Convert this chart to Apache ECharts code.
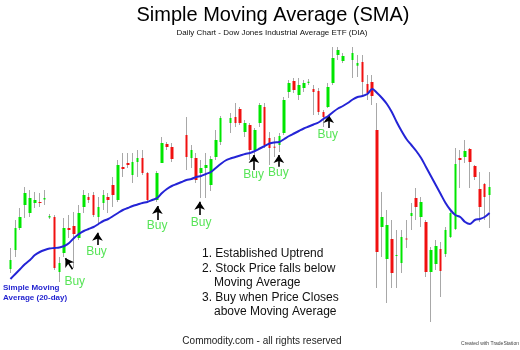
<!DOCTYPE html>
<html><head><meta charset="utf-8">
<script src="https://cdn.jsdelivr.net/npm/echarts/dist/echarts.min.js"></script>
<style>html,body{margin:0;padding:0;background:#fff}#c{width:520px;height:350px}</style>
</head><body><div id="c"></div>
<script>
// Daily candles (price units), null = no candle drawn in the slot
const openP = [103.1,105.0,107.2,109.5,108.7,109.7,109.8,110.05,108.25,108.3,
102.8,104.7,107.2,107.4,106.2,109.3,110.3,110.5,108.3,109.7,
110.3,111.5,110.0,113.3,113.7,112.5,113.8,114.2,112.7,null,
110.0,113.7,115.6,115.3,null,null,116.5,114.2,114.2,112.7,
113.2,111.5,114.3,115.8,null,117.7,118.3,119.1,116.8,117.5,
115.0,117.7,119.3,116.2,115.33,115.5,116.7,120.8,121.9,120.5,
121.2,121.7,121.1,120.9,118.8,119.3,121.7,124.5,123.9,null,
124.0,123.43,123.8,121.6,121.8,117.0,107.3,104.1,106.1,104.4,
103.7,106.15,108.4,110.2,108.3,107.8,102.8,103.6,105.1,104.6,
106.3,107.1,114.2,114.3,115.1,113.4,111.1,111.6,110.5];
const closeP = [104.0,107.2,108.3,110.7,110.2,110.0,109.7,110.2,108.4,103.2,
103.7,107.2,107.0,106.6,108.7,110.5,110.0,108.5,109.3,110.5,
110.0,110.5,113.5,113.1,113.5,113.8,114.2,112.7,110.0,null,
112.7,115.7,115.3,114.1,null,null,114.3,115.0,112.0,113.2,
113.5,114.1,116.0,118.2,null,118.2,117.7,117.7,117.7,115.0,
117.0,119.5,115.5,115.2,115.23,116.4,120.0,121.7,121.0,121.5,
121.7,121.83,120.8,118.8,118.3,121.3,124.2,125.0,124.4,null,
124.7,123.7,121.8,120.7,120.4,104.8,108.3,107.5,102.7,104.5,
106.3,106.05,108.7,109.3,109.8,102.8,105.0,105.4,102.9,107.0,
108.7,113.6,114.0,114.9,113.8,112.3,109.3,110.3,111.3];
const lowP = [102.7,104.3,107.0,108.2,108.3,109.2,109.3,109.5,108.1,103.0,
101.8,104.3,106.2,103.2,106.0,108.7,109.7,108.3,107.5,109.0,
108.7,109.3,109.8,112.3,113.2,111.7,112.3,112.5,109.8,null,
109.8,113.7,115.0,113.8,null,null,113.0,113.2,111.7,110.2,
110.2,110.9,114.0,115.5,null,116.7,117.3,117.5,116.3,114.0,
114.2,117.3,115.2,113.5,114.3,114.8,116.5,120.2,120.7,120.0,
120.8,121.5,118.5,118.5,117.3,119.2,121.5,124.0,123.7,null,
122.2,122.3,120.5,120.0,119.5,101.2,104.3,99.7,101.2,101.2,
102.7,105.2,107.0,108.0,107.3,102.3,97.8,103.0,100.3,104.3,
106.2,107.0,111.2,113.7,111.2,112.0,107.8,108.0,107.2];
const highP = [105.2,108.0,109.2,111.3,111.0,110.8,110.7,111.0,108.6,108.5,
104.3,108.2,108.5,108.8,109.5,111.0,110.7,110.8,110.3,111.0,
110.7,112.3,114.0,114.7,114.7,114.7,115.0,115.0,112.8,null,
112.9,116.3,115.8,115.7,null,null,118.3,115.5,114.7,114.0,
114.7,114.4,117.0,118.4,null,118.7,119.7,119.3,118.0,117.7,
117.2,119.7,119.7,116.8,116.3,116.7,120.3,122.0,122.2,122.2,
122.0,122.1,121.5,121.2,119.0,121.7,125.3,125.3,124.7,null,
125.3,124.5,124.5,122.5,122.5,119.7,110.8,109.0,108.0,107.0,
107.0,108.0,109.7,111.2,110.3,108.0,105.3,106.0,105.8,107.3,
109.0,115.2,115.0,116.0,115.2,113.5,112.8,111.7,112.8];
// 20-day simple moving average
const sma20 = [102.1,102.6,103.1,103.6,104.0,104.5,104.8,105.0,105.15,105.2,
105.25,105.4,105.7,106.2,106.6,106.9,107.1,107.3,107.6,107.9,
108.1,108.4,108.7,109.0,109.2,109.4,109.55,109.7,109.8,110.0,
110.2,110.7,111.1,111.4,111.6,111.8,112.0,112.1,112.3,112.4,
112.6,112.8,113.2,113.6,113.95,114.15,114.3,114.45,114.6,114.7,
114.9,115.15,115.4,115.65,115.75,115.8,116.1,116.4,116.65,116.9,
117.15,117.35,117.55,117.75,118.1,118.4,118.8,119.15,119.4,119.7,
120.05,120.3,120.4,120.6,121.1,120.7,120.2,119.6,118.8,117.8,
116.9,116.1,115.5,114.9,114.2,113.3,112.4,111.5,110.6,109.7,
109.0,108.5,108.3,107.8,107.6,108.0,108.1,108.3,108.7];
// Buy signals: label position and arrow (tail -> head), x in day-index units
const buyLabelX = [13.15,17.6,30.0,39.0,49.75,54.8,64.9];
const buyLabelY = [101.8,104.8,107.4,107.75,112.5,112.7,116.5];
const arrowTailX = [12.7,17.8,30.06,38.7,49.8,54.9,65.1];
const arrowTailY = [103.07,105.5,108.0,108.5,113.0,113.33,117.2];
const arrowHeadX = [11.25,17.8,30.06,38.7,49.8,54.9,65.1];
const arrowHeadY = [104.17,106.73,109.4,109.83,114.5,114.5,118.5];

const days = openP.map((_, i) => 'Day ' + (i + 1));
const wickData = openP.map((o, i) => o == null ? '-' : [(o + closeP[i]) / 2, (o + closeP[i]) / 2, lowP[i], highP[i]]);
const bodyData = openP.map((o, i) => o == null ? '-' : [o, closeP[i], Math.min(o, closeP[i]), Math.max(o, closeP[i])]);
const buyPts = buyLabelX.map((x, i) => [x, buyLabelY[i]]);
const arrows = arrowTailX.map((x, i) => [{coord: [x, arrowTailY[i]]}, {coord: [arrowHeadX[i], arrowHeadY[i]]}]);

const FONT = 'Liberation Sans, Arial, Helvetica, sans-serif';
const chart = echarts.init(document.getElementById('c'), null, {renderer: 'canvas'});
function txt(text, x, y, size, color, align, weight) {
  return {type: 'text', x: x, y: y, silent: true, style: {text: text, font: (weight || 'normal') + ' ' + size + 'px ' + FONT,
    fill: color, align: align || 'center', textAlign: align || 'center', verticalAlign: 'middle', textVerticalAlign: 'middle'}};
}
chart.setOption({
  animation: false,
  backgroundColor: '#ffffff',
  textStyle: {fontFamily: FONT},
  grid: {left: 8, width: 484, top: 0, height: 350},
  xAxis: [
    {type: 'category', data: days, boundaryGap: true, show: false},
    {type: 'value', min: -0.5, max: 98.5, show: false}
  ],
  yAxis: {type: 'value', min: 95, max: 130, show: false},
  series: [
    {type: 'candlestick', name: 'range', data: wickData, barWidth: 1, silent: true,
     itemStyle: {color: '#a8a8a8', color0: '#a8a8a8', borderColor: '#a8a8a8', borderColor0: '#a8a8a8', borderWidth: 1}},
    {type: 'candlestick', name: 'DIA', data: bodyData, barWidth: 3,
     itemStyle: {color: '#00e600', color0: '#f01010', borderColor: '#00e600', borderColor0: '#f01010', borderWidth: 0}},
    {type: 'line', name: 'SMA 20', data: sma20, symbol: 'none', smooth: 0.3,
     lineStyle: {color: '#2424d6', width: 2}, z: 5},
    {type: 'scatter', xAxisIndex: 1, data: buyPts, symbolSize: 1, itemStyle: {color: 'rgba(0,0,0,0)'}, z: 6,
     label: {show: true, position: 'inside', formatter: 'Buy', color: '#2ddd2d', fontSize: 12, fontFamily: FONT},
     markLine: {silent: true, symbol: ['none', 'arrow'], symbolSize: 8, label: {show: false},
       itemStyle: {color: '#000', opacity: 1},
       lineStyle: {color: '#000', width: 1.6, type: 'solid', opacity: 1}, data: arrows}}
  ],
  graphic: [
    txt('Simple Moving Average (SMA)', 273, 15, 20, '#000'),
    txt('Daily Chart - Dow Jones Industrial Average ETF (DIA)', 272, 33, 8, '#111'),
    txt('Simple Moving', 3, 288, 8, '#1f1fcf', 'left', 'bold'),
    txt('Average (20-day)', 3, 298, 8, '#1f1fcf', 'left', 'bold'),
    txt('1. Established Uptrend', 202, 254, 12, '#111', 'left'),
    txt('2. Stock Price falls below', 202, 268.5, 12, '#111', 'left'),
    txt('Moving Average', 214, 283, 12, '#111', 'left'),
    txt('3. Buy when Price Closes', 202, 297.5, 12, '#111', 'left'),
    txt('above Moving Average', 214, 312, 12, '#111', 'left'),
    txt('Commodity.com - all rights reserved', 262, 341, 10, '#222'),
    txt('Created with TradeStation', 490, 344, 5, '#444')
  ]
});
</script></body></html>
